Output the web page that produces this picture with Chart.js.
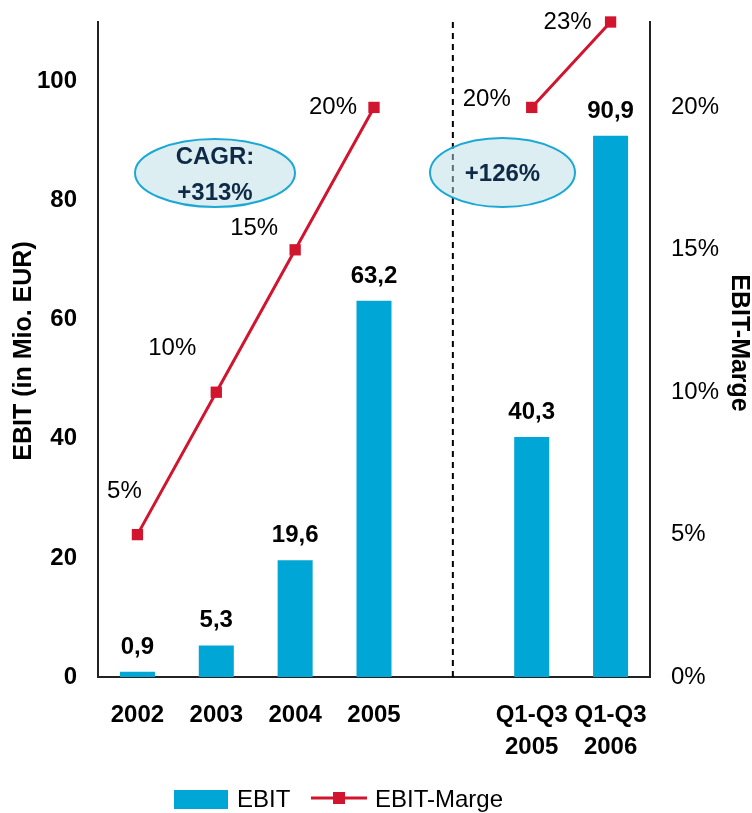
<!DOCTYPE html>
<html>
<head>
<meta charset="utf-8">
<script src="https://cdn.jsdelivr.net/npm/chart.js@4"></script>
<style>
  html, body { margin: 0; padding: 0; background: #fff; }
  canvas { display: block; }
</style>
</head>
<body>
<canvas id="c" width="752" height="813"></canvas>
<script>
// ---- data ----
const categories = ['2002', '2003', '2004', '2005', '', ['Q1-Q3', '2005'], ['Q1-Q3', '2006']];
const ebit = [0.9, 5.3, 19.6, 63.2, null, 40.3, 90.9];
const ebitMarge = [5, 10, 15, 20, null, 20, 23];
const leftTicks = [0, 20, 40, 60, 80, 100];
const rightTicks = [0, 5, 10, 15, 20];
const seriesNames = ['EBIT', 'EBIT-Marge'];
const axisTitles = ['EBIT (in Mio. EUR)', 'EBIT-Marge'];
const bubbles = [
  { lines: ['CAGR:', '+313%'], from: 0, to: 3 },
  { lines: ['+126%'], from: 5, to: 6 }
];

// ---- styles ----
const BLUE = '#00A6D6';
const RED = '#D2152E';
const FONT = "'Liberation Sans', Arial, sans-serif";
const marginLabelOffsets = [[-13, -43], [-44, -44], [-41, -21], [-41, 0], null, [-45, -8], [-43, 0]];

const overlay = {
  id: 'overlay',
  beforeDatasetsDraw(chart) {
    const ctx = chart.ctx, x = chart.scales.x, area = chart.chartArea;
    const gx = x.getPixelForValue(4);
    ctx.save();
    ctx.strokeStyle = '#000';
    ctx.lineWidth = 2;
    ctx.setLineDash([6, 5]);
    ctx.beginPath();
    ctx.moveTo(gx, area.top);
    ctx.lineTo(gx, area.bottom);
    ctx.stroke();
    ctx.restore();
  },
  afterDatasetsDraw(chart) {
    const ctx = chart.ctx;
    ctx.save();
    // bar value labels
    const barMeta = chart.getDatasetMeta(1);
    ctx.font = 'bold 24px ' + FONT;
    ctx.fillStyle = '#000';
    ctx.textAlign = 'center';
    ctx.textBaseline = 'alphabetic';
    barMeta.data.forEach((el, i) => {
      const v = ebit[i];
      if (v == null) return;
      ctx.fillText(v.toFixed(1).replace('.', ','), el.x, el.y - 18);
    });
    // margin labels
    const lineMeta = chart.getDatasetMeta(0);
    ctx.font = '24px ' + FONT;
    ctx.textBaseline = 'middle';
    lineMeta.data.forEach((el, i) => {
      const v = ebitMarge[i];
      if (v == null) return;
      const o = marginLabelOffsets[i];
      ctx.fillText(v + '%', el.x + o[0], el.y + o[1]);
    });
    // bubbles
    const bubbleGeom = [
      { cx: 215, cy: 173, rx: 80, ry: 34 },
      { cx: 502.5, cy: 172.5, rx: 72.5, ry: 34.5 }
    ];
    bubbles.forEach((b, k) => {
      const g = bubbleGeom[k];
      ctx.beginPath();
      ctx.ellipse(g.cx, g.cy, g.rx, g.ry, 0, 0, Math.PI * 2);
      ctx.fillStyle = 'rgba(185,221,227,0.5)';
      ctx.fill();
      ctx.lineWidth = 2;
      ctx.strokeStyle = '#1BA8D5';
      ctx.stroke();
      ctx.fillStyle = '#0e2a47';
      ctx.font = 'bold 24px ' + FONT;
      ctx.textAlign = 'center';
      ctx.textBaseline = 'middle';
      const n = b.lines.length;
      b.lines.forEach((t, j) => {
        ctx.fillText(t, g.cx, g.cy + (j - (n - 1) / 2) * 36 + 2);
      });
    });
    ctx.restore();
  },
  afterDraw(chart) {
    const ctx = chart.ctx;
    ctx.save();
    ctx.fillStyle = '#000';
    ctx.textAlign = 'center';
    ctx.textBaseline = 'middle';
    ctx.font = 'bold 25px ' + FONT;
    // left axis title
    ctx.save();
    ctx.translate(24, 351);
    ctx.rotate(-Math.PI / 2);
    ctx.fillText(axisTitles[0], 0, 0);
    ctx.restore();
    // right axis title
    ctx.save();
    ctx.translate(739, 343);
    ctx.rotate(Math.PI / 2);
    ctx.fillText(axisTitles[1], 0, 0);
    ctx.restore();
    // legend
    ctx.fillStyle = BLUE;
    ctx.fillRect(174, 790, 54, 19);
    ctx.fillStyle = '#000';
    ctx.font = '24px ' + FONT;
    ctx.textAlign = 'left';
    ctx.fillText(seriesNames[0], 237, 800);
    ctx.strokeStyle = RED;
    ctx.lineWidth = 3;
    ctx.beginPath();
    ctx.moveTo(311, 798);
    ctx.lineTo(367, 798);
    ctx.stroke();
    ctx.fillStyle = RED;
    ctx.fillRect(333, 792, 12, 12);
    ctx.fillStyle = '#000';
    ctx.fillText(seriesNames[1], 375, 800);
    ctx.restore();
  }
};

function noPad(s) { s.paddingTop = 0; s.paddingBottom = 0; }

new Chart(document.getElementById('c'), {
  data: {
    labels: categories,
    datasets: [
      {
        type: 'line',
        label: seriesNames[1],
        data: ebitMarge,
        yAxisID: 'y1',
        borderColor: RED,
        backgroundColor: RED,
        borderWidth: 3,
        pointStyle: 'rect',
        pointRadius: 8,
        pointBorderWidth: 0,
        spanGaps: false,
        tension: 0,
        clip: false,
        order: 0
      },
      {
        type: 'bar',
        label: seriesNames[0],
        data: ebit,
        yAxisID: 'y',
        backgroundColor: BLUE,
        categoryPercentage: 1,
        barPercentage: 0.444,
        order: 1
      }
    ]
  },
  options: {
    responsive: false,
    animation: false,
    devicePixelRatio: 1,
    layout: { padding: { top: 22, left: 0, right: 0, bottom: 0 } },
    plugins: { legend: { display: false }, tooltip: { enabled: false }, title: { display: false } },
    scales: {
      x: {
        grid: { display: false, drawTicks: false },
        border: { display: true, color: '#222', width: 2 },
        ticks: {
          color: '#000',
          font: { family: FONT, size: 24, weight: 'bold', lineHeight: 1.35 },
          padding: 22,
          maxRotation: 0,
          autoSkip: false
        },
        afterFit(s) { s.height = 136; s.paddingLeft = 0; s.paddingRight = 0; }
      },
      y: {
        position: 'left',
        min: 0,
        max: 110,
        grid: { display: false, drawTicks: false },
        border: { display: true, color: '#222', width: 2 },
        ticks: { color: '#000', font: { family: FONT, size: 24, weight: 'bold' }, padding: 21 },
        afterBuildTicks(s) { s.ticks = leftTicks.map(v => ({ value: v })); },
        afterFit(s) { s.width = 98; noPad(s); }
      },
      y1: {
        position: 'right',
        min: 0,
        max: 23,
        grid: { display: false, drawTicks: false },
        border: { display: true, color: '#222', width: 2 },
        ticks: { color: '#000', font: { family: FONT, size: 24 }, padding: 21, callback: v => v + '%' },
        afterBuildTicks(s) { s.ticks = rightTicks.map(v => ({ value: v })); },
        afterFit(s) { s.width = 102; noPad(s); }
      }
    }
  },
  plugins: [overlay]
});
</script>
</body>
</html>
